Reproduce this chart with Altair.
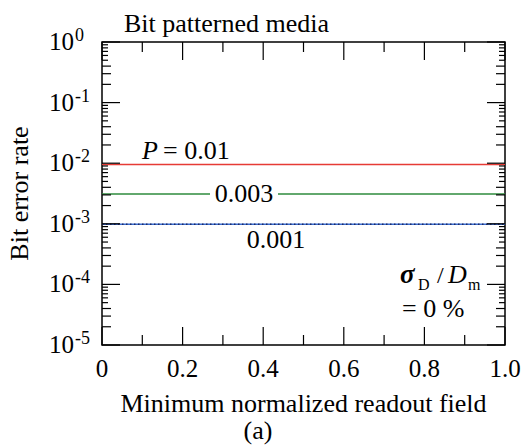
import altair as alt
import pandas as pd

# ---------------- data ----------------
x_range = [0.0, 1.0]
series_labels = ["0.01", "0.003", "0.001"]
ber_values = [0.0095, 0.0031, 0.00098]
series_colors = ["#e63b35", "#2e8b3c", "#3a6cd0"]
x_major = [0.0, 0.2, 0.4, 0.6, 0.8, 1.0]
x_minor = [0.1, 0.3, 0.5, 0.7, 0.9]
x_tick_labels = ["0", "0.2", "0.4", "0.6", "0.8", "1.0"]
y_decades = [-5, -4, -3, -2, -1, 0]
y_minor_mult_long = [2, 3, 4]
y_minor_mult_short = [5, 6, 7, 8, 9]

W, H = 403, 303
FONT = "'Liberation Serif', 'Times New Roman', Times, serif"
TS = 26   # title / annotation size
LS = 25   # tick label size

xs = alt.Scale(domain=[0, 1], nice=False, zero=False)
ys = alt.Scale(type="log", domain=[1e-5, 1], nice=False)

df_xmaj = pd.DataFrame({"v": x_major, "lab": x_tick_labels})
df_xmin = pd.DataFrame({"v": x_minor})
df_ymaj = pd.DataFrame({"v": [10.0 ** d for d in y_decades],
                        "e": [str(d) for d in y_decades]})
df_ymin_l = pd.DataFrame({"v": [m * 10.0 ** d for d in y_decades[:-1] for m in y_minor_mult_long]})
df_ymin_s = pd.DataFrame({"v": [m * 10.0 ** d for d in y_decades[:-1] for m in y_minor_mult_short]})
dummy = pd.DataFrame({"d": [0]})

X = lambda: alt.X("v:Q", scale=xs, axis=None)
Y = lambda: alt.Y("v:Q", scale=ys, axis=None)

layers = []

# ---- series lines ----
def line_df(i):
    return pd.DataFrame({"x": x_range, "y": [ber_values[i]] * len(x_range)})

for i in range(3):
    layers.append(
        alt.Chart(line_df(i)).mark_line(color=series_colors[i], strokeWidth=1.5).encode(
            x=alt.X("x:Q", scale=xs, axis=None), y=alt.Y("y:Q", scale=ys, axis=None))
    )
layers.append(
    alt.Chart(line_df(2)).mark_line(color="#1b2a66", strokeWidth=1.5, strokeDash=[1.5, 2.5]).encode(
        x=alt.X("x:Q", scale=xs, axis=None), y=alt.Y("y:Q", scale=ys, axis=None))
)

# ---- ticks (inward, all four sides) ----
tk = dict(color="black", strokeWidth=1.2)
for df, L in [(df_xmaj, 18), (df_xmin, 10)]:
    layers.append(alt.Chart(df).mark_rule(**tk).encode(x=X(), y=alt.value(H), y2=alt.value(H - L)))
    layers.append(alt.Chart(df).mark_rule(**tk).encode(x=X(), y=alt.value(0), y2=alt.value(L)))
for df, L in [(df_ymaj, 18), (df_ymin_l, 9), (df_ymin_s, 6)]:
    layers.append(alt.Chart(df).mark_rule(**tk).encode(y=Y(), x=alt.value(0), x2=alt.value(L)))
    layers.append(alt.Chart(df).mark_rule(**tk).encode(y=Y(), x=alt.value(W), x2=alt.value(W - L)))

# ---- tick labels ----
layers.append(alt.Chart(df_xmaj).mark_text(font=FONT, fontSize=LS, align="center",
                                           baseline="alphabetic").encode(
    x=X(), y=alt.value(H + 32), text="lab:N"))
layers.append(alt.Chart(df_ymaj).mark_text(font=FONT, fontSize=LS, align="right",
                                           baseline="alphabetic", dy=8, text="10").encode(
    y=Y(), x=alt.value(-28)))
layers.append(alt.Chart(df_ymaj).mark_text(font=FONT, fontSize=18, align="left",
                                           baseline="alphabetic", dy=-1).encode(
    y=Y(), x=alt.value(-27), text="e:N"))

# ---- titles ----
def txt(s, x, y, size=TS, align="left", **kw):
    return alt.Chart(dummy).mark_text(text=s, font=FONT, fontSize=size, align=align,
                                      baseline="alphabetic", **kw).encode(
        x=alt.value(x), y=alt.value(y))

layers.append(txt("Bit patterned media", 22, -10))
layers.append(txt("Minimum normalized readout field", W / 2, H + 67, align="center"))
layers.append(txt("(a)", 156, H + 94, align="center"))
layers.append(alt.Chart(dummy).mark_text(text="Bit error rate", font=FONT, fontSize=TS,
                                         align="center", baseline="alphabetic", angle=270).encode(
    x=alt.value(-74), y=alt.value(H / 2)))

# ---- series annotations ----
def ann(i, s, x, dy, align="left", size=TS, **kw):
    return alt.Chart(pd.DataFrame({"v": [ber_values[i]]})).mark_text(
        text=s, font=FONT, fontSize=size, align=align, baseline="alphabetic", dy=dy, **kw
    ).encode(y=Y(), x=alt.value(x))

layers.append(ann(0, "P", 40, -6, fontStyle="italic"))
layers.append(ann(0, "= " + series_labels[0], 61, -6))
# gap in green line behind its label
layers.append(alt.Chart(pd.DataFrame({"v": [ber_values[1]]})).mark_rule(color="white", strokeWidth=10).encode(
    y=Y(), x=alt.value(108), x2=alt.value(176)))
layers.append(ann(1, series_labels[1], 142, 8, align="center"))
layers.append(ann(2, series_labels[2], 174, 24, align="center"))

# ---- sigma_D / D_m = 0 % ----
layers.append(txt("σ", 298, 241, size=27, fontStyle="italic", fontWeight="bold"))
layers.append(txt("D", 316, 248, size=16))
layers.append(txt("/", 335, 241, size=24))
layers.append(txt("D", 346, 241, size=TS, fontStyle="italic"))
layers.append(txt("m", 366, 248, size=16))
layers.append(txt("= 0 %", 300, 275, size=TS))

chart = alt.layer(*layers).properties(
    width=W, height=H,
    autosize=alt.AutoSizeParams(type="none"),
    padding={"left": 102, "top": 42, "right": 17, "bottom": 102},
    background="white",
).configure_view(stroke="black", strokeWidth=1.5)

chart.save("out.html", embed_options={"renderer": "svg", "actions": False})
